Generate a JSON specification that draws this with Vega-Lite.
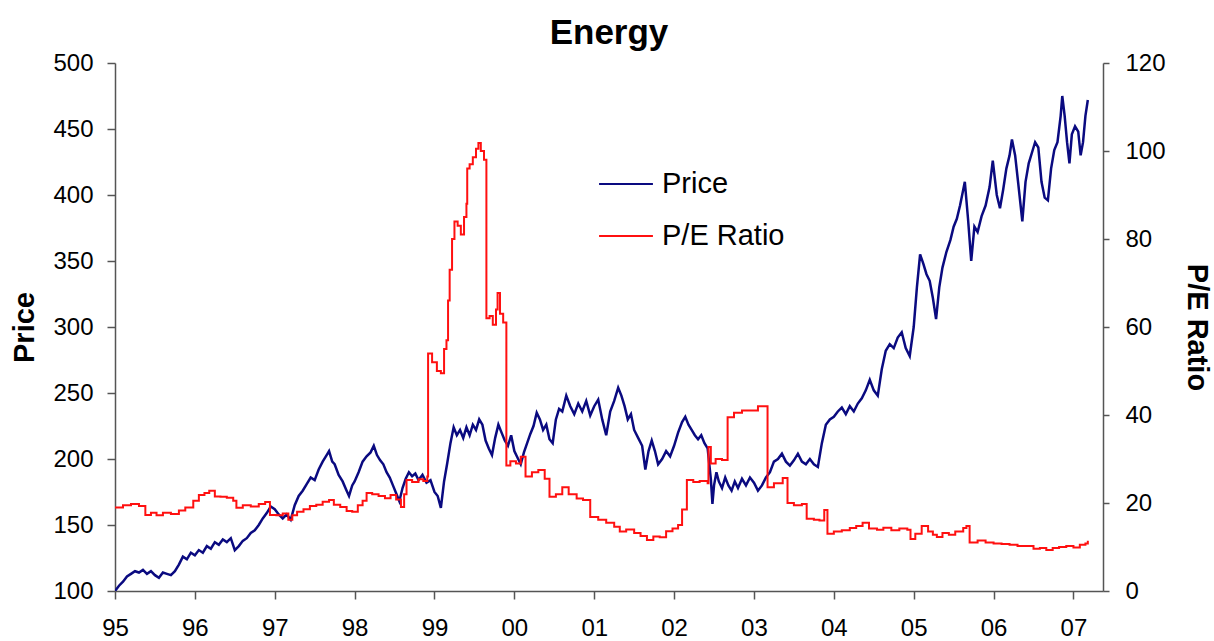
{
"$schema":"https://vega.github.io/schema/vega-lite/v6.json",
"autosize":"none",
"width":988,"height":528,
"padding":{"left":115,"top":63,"right":111,"bottom":50},
"background":"white",
"title":{"text":"Energy","fontSize":35,"font":"Liberation Sans","fontWeight":"bold","color":"black","anchor":"middle","offset":0},
"config":{"view":{"stroke":null},
"axis":{"grid":false,"domainColor":"#555","domainWidth":1.5,"tickColor":"#555","tickWidth":1.5,"tickSize":8,"labelFont":"Liberation Sans","labelFontSize":24,"labelColor":"black","titleFont":"Liberation Sans","titleFontSize":29,"titleFontWeight":"bold","titleColor":"black"}},
"datasets":{
"price":[{"t":95.00,"v":100},{"t":95.05,"v":104},{"t":95.10,"v":107},{"t":95.15,"v":111},{"t":95.20,"v":113},{"t":95.25,"v":115},{"t":95.30,"v":114},{"t":95.35,"v":116},{"t":95.40,"v":113},{"t":95.45,"v":115},{"t":95.50,"v":112},{"t":95.55,"v":110},{"t":95.60,"v":114},{"t":95.65,"v":113},{"t":95.70,"v":112},{"t":95.75,"v":115},{"t":95.80,"v":120},{"t":95.85,"v":126},{"t":95.90,"v":124},{"t":95.95,"v":129},{"t":96.00,"v":127},{"t":96.05,"v":131},{"t":96.10,"v":129},{"t":96.15,"v":134},{"t":96.20,"v":132},{"t":96.25,"v":137},{"t":96.30,"v":135},{"t":96.35,"v":139},{"t":96.40,"v":137},{"t":96.45,"v":140},{"t":96.50,"v":131},{"t":96.55,"v":134},{"t":96.60,"v":138},{"t":96.65,"v":140},{"t":96.70,"v":144},{"t":96.75,"v":146},{"t":96.80,"v":150},{"t":96.85,"v":155},{"t":96.90,"v":159},{"t":96.95,"v":164},{"t":97.00,"v":162},{"t":97.05,"v":158},{"t":97.10,"v":155},{"t":97.15,"v":158},{"t":97.20,"v":154},{"t":97.25,"v":165},{"t":97.30,"v":172},{"t":97.35,"v":176},{"t":97.40,"v":181},{"t":97.45,"v":186},{"t":97.50,"v":184},{"t":97.55,"v":192},{"t":97.60,"v":198},{"t":97.65,"v":203},{"t":97.68,"v":206},{"t":97.72,"v":198},{"t":97.75,"v":196},{"t":97.80,"v":188},{"t":97.85,"v":183},{"t":97.90,"v":176},{"t":97.93,"v":172},{"t":97.97,"v":180},{"t":98.00,"v":183},{"t":98.05,"v":190},{"t":98.10,"v":198},{"t":98.15,"v":202},{"t":98.20,"v":205},{"t":98.24,"v":210},{"t":98.28,"v":203},{"t":98.32,"v":199},{"t":98.36,"v":196},{"t":98.40,"v":190},{"t":98.44,"v":186},{"t":98.48,"v":180},{"t":98.52,"v":174},{"t":98.56,"v":168},{"t":98.60,"v":178},{"t":98.64,"v":185},{"t":98.68,"v":190},{"t":98.72,"v":187},{"t":98.76,"v":189},{"t":98.80,"v":184},{"t":98.85,"v":188},{"t":98.90,"v":182},{"t":98.95,"v":184},{"t":99.00,"v":175},{"t":99.04,"v":172},{"t":99.08,"v":163},{"t":99.12,"v":183},{"t":99.16,"v":197},{"t":99.20,"v":212},{"t":99.24,"v":224},{"t":99.28,"v":218},{"t":99.32,"v":222},{"t":99.36,"v":216},{"t":99.40,"v":224},{"t":99.44,"v":218},{"t":99.48,"v":226},{"t":99.52,"v":222},{"t":99.56,"v":230},{"t":99.60,"v":226},{"t":99.64,"v":214},{"t":99.68,"v":208},{"t":99.72,"v":203},{"t":99.76,"v":216},{"t":99.80,"v":226},{"t":99.84,"v":220},{"t":99.88,"v":214},{"t":99.92,"v":210},{"t":99.96,"v":218},{"t":100.00,"v":206},{"t":100.04,"v":201},{"t":100.08,"v":196},{"t":100.12,"v":205},{"t":100.16,"v":212},{"t":100.20,"v":219},{"t":100.24,"v":225},{"t":100.28,"v":235},{"t":100.32,"v":230},{"t":100.36,"v":222},{"t":100.40,"v":226},{"t":100.44,"v":215},{"t":100.48,"v":212},{"t":100.52,"v":230},{"t":100.56,"v":238},{"t":100.60,"v":236},{"t":100.65,"v":248},{"t":100.70,"v":240},{"t":100.75,"v":234},{"t":100.80,"v":242},{"t":100.85,"v":236},{"t":100.90,"v":244},{"t":100.95,"v":233},{"t":101.00,"v":240},{"t":101.05,"v":245},{"t":101.10,"v":230},{"t":101.15,"v":218},{"t":101.20,"v":236},{"t":101.25,"v":244},{"t":101.30,"v":254},{"t":101.34,"v":248},{"t":101.38,"v":240},{"t":101.42,"v":230},{"t":101.46,"v":234},{"t":101.50,"v":222},{"t":101.55,"v":216},{"t":101.60,"v":210},{"t":101.64,"v":192},{"t":101.68,"v":206},{"t":101.72,"v":214},{"t":101.76,"v":206},{"t":101.80,"v":196},{"t":101.85,"v":200},{"t":101.90,"v":206},{"t":101.95,"v":202},{"t":102.00,"v":210},{"t":102.05,"v":220},{"t":102.10,"v":228},{"t":102.14,"v":232},{"t":102.18,"v":226},{"t":102.22,"v":222},{"t":102.26,"v":218},{"t":102.30,"v":215},{"t":102.34,"v":218},{"t":102.38,"v":212},{"t":102.42,"v":208},{"t":102.46,"v":185},{"t":102.48,"v":166},{"t":102.50,"v":180},{"t":102.53,"v":190},{"t":102.56,"v":183},{"t":102.60,"v":178},{"t":102.64,"v":186},{"t":102.68,"v":180},{"t":102.72,"v":176},{"t":102.76,"v":183},{"t":102.80,"v":178},{"t":102.85,"v":185},{"t":102.90,"v":180},{"t":102.95,"v":186},{"t":103.00,"v":182},{"t":103.05,"v":176},{"t":103.10,"v":180},{"t":103.15,"v":186},{"t":103.20,"v":190},{"t":103.25,"v":198},{"t":103.30,"v":200},{"t":103.35,"v":204},{"t":103.40,"v":198},{"t":103.45,"v":195},{"t":103.50,"v":199},{"t":103.55,"v":204},{"t":103.60,"v":198},{"t":103.65,"v":196},{"t":103.70,"v":200},{"t":103.75,"v":196},{"t":103.80,"v":194},{"t":103.85,"v":212},{"t":103.90,"v":226},{"t":103.95,"v":230},{"t":104.00,"v":232},{"t":104.05,"v":236},{"t":104.10,"v":239},{"t":104.15,"v":234},{"t":104.20,"v":240},{"t":104.25,"v":236},{"t":104.30,"v":242},{"t":104.35,"v":246},{"t":104.40,"v":252},{"t":104.45,"v":260},{"t":104.50,"v":252},{"t":104.55,"v":248},{"t":104.60,"v":268},{"t":104.65,"v":282},{"t":104.70,"v":287},{"t":104.75,"v":284},{"t":104.80,"v":292},{"t":104.85,"v":296},{"t":104.90,"v":284},{"t":104.95,"v":278},{"t":105.00,"v":300},{"t":105.04,"v":330},{"t":105.08,"v":355},{"t":105.12,"v":348},{"t":105.16,"v":340},{"t":105.20,"v":335},{"t":105.24,"v":322},{"t":105.28,"v":306},{"t":105.32,"v":330},{"t":105.36,"v":345},{"t":105.41,"v":357},{"t":105.46,"v":366},{"t":105.50,"v":376},{"t":105.54,"v":382},{"t":105.58,"v":392},{"t":105.62,"v":404},{"t":105.64,"v":410},{"t":105.68,"v":382},{"t":105.72,"v":350},{"t":105.76,"v":376},{"t":105.80,"v":372},{"t":105.85,"v":384},{"t":105.90,"v":392},{"t":105.95,"v":406},{"t":105.99,"v":426},{"t":106.04,"v":400},{"t":106.08,"v":390},{"t":106.12,"v":404},{"t":106.16,"v":420},{"t":106.20,"v":430},{"t":106.23,"v":442},{"t":106.27,"v":430},{"t":106.31,"v":408},{"t":106.36,"v":380},{"t":106.40,"v":410},{"t":106.44,"v":424},{"t":106.48,"v":432},{"t":106.52,"v":440},{"t":106.56,"v":436},{"t":106.60,"v":410},{"t":106.64,"v":398},{"t":106.68,"v":396},{"t":106.72,"v":420},{"t":106.76,"v":434},{"t":106.80,"v":440},{"t":106.84,"v":460},{"t":106.86,"v":475},{"t":106.89,"v":460},{"t":106.92,"v":440},{"t":106.95,"v":424},{"t":106.98,"v":446},{"t":107.02,"v":452},{"t":107.06,"v":448},{"t":107.09,"v":430},{"t":107.12,"v":440},{"t":107.15,"v":460},{"t":107.18,"v":472}],
"pe":[{"t":95.00,"v":19},{"t":95.10,"v":19.5},{"t":95.20,"v":19.8},{"t":95.30,"v":19.3},{"t":95.38,"v":17.3},{"t":95.45,"v":17.8},{"t":95.52,"v":17.2},{"t":95.60,"v":17.8},{"t":95.70,"v":17.5},{"t":95.80,"v":18.3},{"t":95.88,"v":19},{"t":95.98,"v":20.5},{"t":96.05,"v":21.8},{"t":96.12,"v":22.3},{"t":96.18,"v":22.8},{"t":96.25,"v":21.5},{"t":96.32,"v":21.4},{"t":96.40,"v":21.2},{"t":96.48,"v":20.5},{"t":96.52,"v":18.9},{"t":96.60,"v":19.5},{"t":96.70,"v":19.2},{"t":96.80,"v":19.8},{"t":96.88,"v":20.2},{"t":96.94,"v":17.3},{"t":97.02,"v":17.2},{"t":97.10,"v":17.6},{"t":97.17,"v":16.2},{"t":97.22,"v":17.2},{"t":97.28,"v":18},{"t":97.36,"v":18.6},{"t":97.44,"v":19.3},{"t":97.52,"v":19.6},{"t":97.60,"v":20.3},{"t":97.68,"v":20.7},{"t":97.74,"v":19.6},{"t":97.82,"v":19.1},{"t":97.90,"v":18.2},{"t":97.97,"v":18},{"t":98.04,"v":19.5},{"t":98.10,"v":20.5},{"t":98.15,"v":22.3},{"t":98.22,"v":22},{"t":98.30,"v":21.6},{"t":98.38,"v":21.1},{"t":98.45,"v":21.8},{"t":98.52,"v":20.8},{"t":98.58,"v":19.1},{"t":98.62,"v":22},{"t":98.65,"v":25.2},{"t":98.72,"v":24.8},{"t":98.80,"v":25.4},{"t":98.86,"v":25},{"t":98.91,"v":26},{"t":98.92,"v":54},{"t":98.97,"v":52},{"t":99.03,"v":50},{"t":99.08,"v":49.5},{"t":99.12,"v":55},{"t":99.15,"v":57},{"t":99.17,"v":66},{"t":99.19,"v":73},{"t":99.22,"v":80},{"t":99.25,"v":84},{"t":99.29,"v":83},{"t":99.33,"v":81},{"t":99.37,"v":85},{"t":99.40,"v":88},{"t":99.41,"v":96},{"t":99.44,"v":97},{"t":99.48,"v":98.6},{"t":99.52,"v":100.5},{"t":99.55,"v":101.8},{"t":99.58,"v":100},{"t":99.62,"v":98},{"t":99.65,"v":62},{"t":99.69,"v":62.5},{"t":99.73,"v":60.5},{"t":99.77,"v":64},{"t":99.79,"v":67.7},{"t":99.82,"v":63},{"t":99.86,"v":61},{"t":99.90,"v":28.5},{"t":99.95,"v":29.5},{"t":100.02,"v":29},{"t":100.08,"v":30.5},{"t":100.14,"v":26},{"t":100.22,"v":27},{"t":100.30,"v":27.5},{"t":100.38,"v":25.5},{"t":100.44,"v":21.4},{"t":100.52,"v":22},{"t":100.60,"v":23.6},{"t":100.68,"v":22},{"t":100.78,"v":21},{"t":100.86,"v":20.7},{"t":100.95,"v":16.8},{"t":101.05,"v":16.2},{"t":101.15,"v":15.5},{"t":101.25,"v":14.6},{"t":101.32,"v":13.5},{"t":101.40,"v":14},{"t":101.50,"v":13.2},{"t":101.58,"v":12.5},{"t":101.66,"v":11.6},{"t":101.74,"v":12.4},{"t":101.82,"v":12.2},{"t":101.90,"v":13.6},{"t":101.98,"v":14.2},{"t":102.05,"v":15},{"t":102.10,"v":18.5},{"t":102.16,"v":25.2},{"t":102.24,"v":24.8},{"t":102.32,"v":25},{"t":102.42,"v":24.5},{"t":102.43,"v":32.7},{"t":102.46,"v":29},{"t":102.52,"v":30},{"t":102.60,"v":29.8},{"t":102.67,"v":39.5},{"t":102.75,"v":40.5},{"t":102.85,"v":41},{"t":102.95,"v":41},{"t":103.05,"v":42},{"t":103.16,"v":42},{"t":103.17,"v":23.6},{"t":103.25,"v":24.5},{"t":103.36,"v":25.7},{"t":103.42,"v":20},{"t":103.50,"v":19.5},{"t":103.60,"v":19.8},{"t":103.66,"v":16.4},{"t":103.75,"v":16.2},{"t":103.82,"v":16},{"t":103.88,"v":18.4},{"t":103.92,"v":13},{"t":104.00,"v":13.5},{"t":104.10,"v":13.8},{"t":104.20,"v":14.3},{"t":104.28,"v":14.8},{"t":104.36,"v":15.5},{"t":104.44,"v":14.2},{"t":104.54,"v":13.9},{"t":104.62,"v":14.4},{"t":104.72,"v":13.8},{"t":104.82,"v":14.2},{"t":104.92,"v":13.9},{"t":104.96,"v":11.8},{"t":105.02,"v":13},{"t":105.10,"v":14.8},{"t":105.18,"v":13.5},{"t":105.24,"v":12.8},{"t":105.29,"v":12.3},{"t":105.36,"v":13.2},{"t":105.44,"v":12.8},{"t":105.52,"v":13.5},{"t":105.62,"v":14.3},{"t":105.66,"v":14.8},{"t":105.70,"v":11},{"t":105.80,"v":11.5},{"t":105.90,"v":11},{"t":106.00,"v":10.8},{"t":106.10,"v":10.7},{"t":106.20,"v":10.5},{"t":106.30,"v":10.2},{"t":106.41,"v":10.2},{"t":106.50,"v":9.6},{"t":106.58,"v":9.8},{"t":106.66,"v":9.3},{"t":106.74,"v":9.8},{"t":106.82,"v":10},{"t":106.91,"v":10.2},{"t":107.00,"v":9.9},{"t":107.08,"v":10.5},{"t":107.15,"v":10.8},{"t":107.18,"v":11.4}]
},
"layer":[
{"data":{"name":"price"},
"mark":{"type":"line","strokeWidth":2.5,"clip":true},
"encoding":{
"x":{"field":"t","type":"quantitative","scale":{"domain":[95,107.37],"nice":false,"zero":false},
"axis":{"values":[95,96,97,98,99,100,101,102,103,104,105,106,107],"labelExpr":"datum.value>=100 ? '0'+(datum.value-100) : ''+datum.value","title":null,"labelPadding":17,"labelFlush":false}},
"y":{"field":"v","type":"quantitative","scale":{"domain":[100,500],"nice":false,"zero":false},
"axis":{"orient":"left","values":[100,150,200,250,300,350,400,450,500],"title":"Price","labelPadding":14,"titlePadding":13}},
"color":{"datum":"Price","type":"nominal","scale":{"domain":["Price","P/E Ratio"],"range":["#0a0a80","#ff1010"]},
"legend":{"title":null,"orient":"none","legendX":483,"legendY":93,"symbolType":"stroke","symbolSize":2900,"symbolStrokeWidth":2,"labelFont":"Liberation Sans","labelFontSize":29,"labelColor":"black","labelOffset":8,"rowPadding":9}}
}},
{"data":{"name":"pe"},
"mark":{"type":"line","strokeWidth":2,"interpolate":"step-after","clip":true},
"encoding":{
"x":{"field":"t","type":"quantitative"},
"y":{"field":"v","type":"quantitative","scale":{"domain":[0,120],"nice":false},
"axis":{"orient":"right","values":[0,20,40,60,80,100,120],"title":"P/E Ratio","tickSize":6,"labelPadding":16,"titlePadding":16}},
"color":{"datum":"P/E Ratio","type":"nominal"}
}}
],
"resolve":{"scale":{"y":"independent"},"axis":{"y":"independent"}}
}
